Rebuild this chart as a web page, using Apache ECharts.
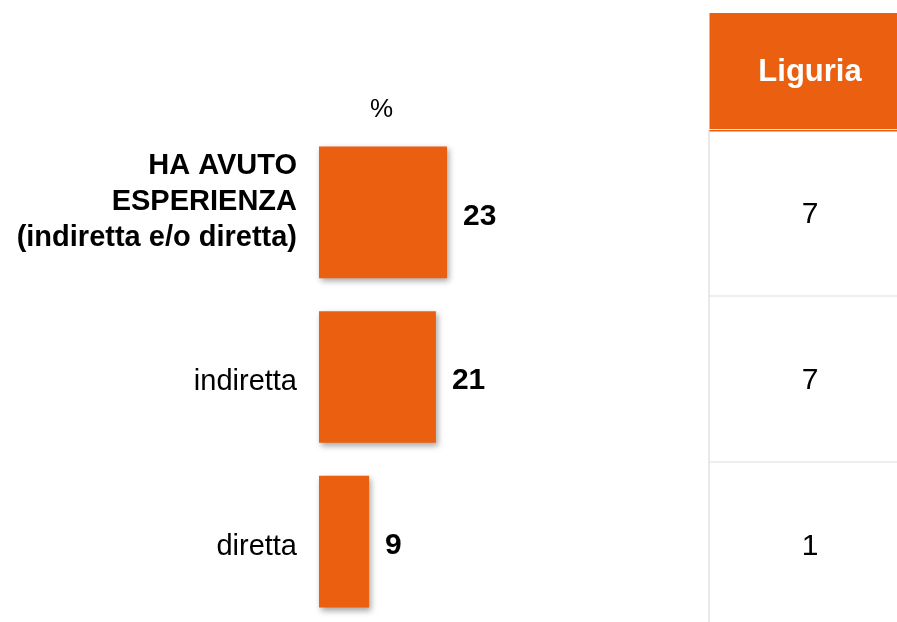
<!DOCTYPE html>
<html>
<head>
<meta charset="utf-8">
<title>Esperienza - Liguria</title>
<script src="https://cdn.jsdelivr.net/npm/echarts@6/dist/echarts.min.js"></script>
<style>
  html, body { margin: 0; padding: 0; background: #fff; overflow: hidden; }
  /* il riferimento e' ritagliato: la tabella continua oltre il bordo */
  #main { width: 915px; height: 632px; }
</style>
</head>
<body>
<div id="main"></div>
<script>
// dati
var categories = ['HA AVUTO\nESPERIENZA\n(indiretta e/o diretta)', 'indiretta', 'diretta'];
var values = [23, 21, 9];
var regionName = 'Liguria';
var regionValues = [7, 7, 1];

var ORANGE = '#EA5F10';
var FONT = '"Liberation Sans", Arial, sans-serif';

var chart = echarts.init(document.getElementById('main'));

var option = {
    animation: false,
    title: {
        text: '%',
        left: 365,
        top: 92,
        textStyle: { fontSize: 26, fontWeight: 'normal', color: '#000', fontFamily: FONT }
    },
    grid: [
        { left: 319, top: 130, width: 167, height: 494 },
        { left: 709, top: 130, width: 202, height: 498 }
    ],
    xAxis: [
        {
            gridIndex: 0, type: 'value', min: 0, max: 30,
            show: false
        },
        {
            gridIndex: 1, type: 'category', position: 'top',
            data: [regionName],
            axisLine: { show: false },
            axisTick: { show: false },
            axisLabel: {
                margin: 42,
                color: '#fff',
                fontSize: 31,
                fontWeight: 'bold',
                fontFamily: FONT
            }
        }
    ],
    yAxis: [
        {
            gridIndex: 0, type: 'category', inverse: true,
            data: categories,
            axisLine: { show: false },
            axisTick: { show: false },
            axisLabel: {
                margin: 22,
                align: 'right',
                formatter: function (val, idx) {
                    if (idx === 0) {
                        // riga vuota in fondo per alzare il blocco come nell'originale
                        return val.split('\n').map(function (s) { return '{b|' + s + '}'; }).join('\n') + '\n{s| }';
                    }
                    return '{t| }\n{n|' + val + '}';
                },
                rich: {
                    b: { fontSize: 29, fontWeight: 'bold', color: '#000', fontFamily: FONT, lineHeight: 36, align: 'right' },
                    n: { fontSize: 29, color: '#000', fontFamily: FONT, lineHeight: 36, align: 'right' },
                    s: { fontSize: 10, lineHeight: 20 },
                    t: { fontSize: 8, lineHeight: 10 }
                }
            }
        },
        {
            gridIndex: 1, type: 'category', inverse: true,
            data: categories,
            axisLine: { show: true, lineStyle: { color: '#e2e2e2', width: 1.5 } },
            axisTick: { show: false },
            axisLabel: { show: false },
            splitLine: { show: true, lineStyle: { color: '#e8e8e8', width: 1.5 } }
        }
    ],
    graphic: [
        { type: 'rect', z: 0, shape: { x: 709.5, y: 13, width: 210, height: 116 }, style: { fill: ORANGE } },
        { type: 'rect', z: 10, shape: { x: 709.5, y: 130, width: 210, height: 1.5 }, style: { fill: ORANGE } }
    ],
    series: [
        {
            type: 'bar',
            xAxisIndex: 0, yAxisIndex: 0,
            data: values,
            barCategoryGap: '20%',
            itemStyle: {
                color: ORANGE,
                shadowColor: 'rgba(0,0,0,0.35)',
                shadowBlur: 6,
                shadowOffsetX: 2,
                shadowOffsetY: 3
            },
            label: {
                show: true,
                position: 'right',
                distance: 16,
                offset: [0, 4],
                color: '#000',
                fontSize: 30,
                fontWeight: 'bold',
                fontFamily: FONT
            }
        },
        {
            type: 'scatter',
            xAxisIndex: 1, yAxisIndex: 1,
            symbolSize: 0,
            itemStyle: { opacity: 1 },
            data: regionValues.map(function (v, i) { return [regionName, categories[i], v]; }),
            label: {
                show: true,
                position: 'inside',
                offset: [0, 2],
                formatter: function (p) { return p.data[2]; },
                color: '#000',
                fontSize: 30,
                fontFamily: FONT
            }
        }
    ]
};

chart.setOption(option);
</script>
</body>
</html>
